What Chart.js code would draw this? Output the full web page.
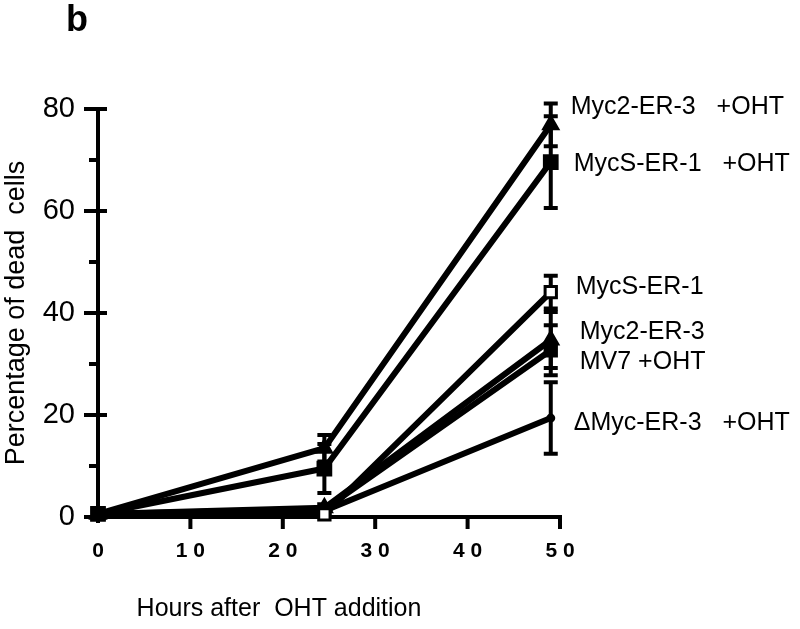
<!DOCTYPE html>
<html lang="en">
<head>
    <meta charset="UTF-8">
    <title>Percentage of dead cells</title>
    <script src="https://cdn.jsdelivr.net/npm/chart.js"></script>
    <style>
        body { margin: 0; background: #fff; }
        canvas { display: block; }
    </style>
</head>
<body>
    <canvas id="deadChart" width="800" height="629"></canvas>
    <script>
        // values (hours, % dead cells)
        const hours = [0, 24.5, 49];
        const myc2Oht = [0.6, 13.5, 76.9];
        const mycSOht = [0.6, 9.5, 69.6];
        const mycS = [0.6, 0.5, 44.1];
        const myc2 = [0.6, 1.8, 34.7];
        const mv7Oht = [0.6, 1.5, 32.7];
        const dMycOht = [0.6, 1.2, 19.4];

        // error bar half-widths
        const myc2OhtErr = [0, 2.6, 4.2];
        const mycSOhtErr = [0, 4.8, 9.0];
        const mycSErr = [0, 0, 3.2];
        const myc2Err = [0, 0, 5.5];
        const mv7OhtErr = [0, 0, 4.9];
        const dMycOhtErr = [0, 0, 7.0];

        const seriesNames = ["Myc2-ER-3   +OHT", "MycS-ER-1   +OHT", "MycS-ER-1", "Myc2-ER-3", "MV7 +OHT", "\u0394Myc-ER-3   +OHT"];
        // where each name sits (y value) next to the last time point
        const nameLevels = [80.4, 69.2, 45.1, 36.3, 30.4, 18.4];
        const nameShift = [20, 23, 25, 29, 29, 23];

        const yTicks = [0, 20, 40, 60, 80];
        const yMinor = [10, 30, 50, 70];
        const xTicks = [10, 20, 30, 40, 50];

        const FONT = '"Liberation Sans", Arial, Helvetica, sans-serif';

        function pts(arr) {
            return hours.map((h, i) => ({ x: h, y: arr[i] }));
        }

        function series(label, arr, err, style, radius, fill) {
            return {
                label: label,
                data: pts(arr),
                errors: err,
                borderColor: '#000',
                borderWidth: 6,
                pointStyle: style,
                pointRadius: radius,
                pointBackgroundColor: fill,
                pointBorderColor: '#000',
                pointBorderWidth: 3,
                tension: 0,
                clip: false
            };
        }

        const axesPlugin = {
            id: 'axesPlugin',
            beforeDatasetsDraw(chart) {
                const c = chart.ctx;
                const xs = chart.scales.x, ys = chart.scales.y;
                const x0 = xs.getPixelForValue(0), y0 = ys.getPixelForValue(0);
                c.save();
                c.strokeStyle = '#000';
                c.lineWidth = 4;
                c.lineCap = 'butt';
                c.beginPath();
                c.moveTo(x0, ys.getPixelForValue(80) - 2);
                c.lineTo(x0, y0 + 6);
                c.moveTo(x0 - 2, y0);
                c.lineTo(xs.getPixelForValue(50) + 2, y0);
                yTicks.forEach(v => {
                    const p = ys.getPixelForValue(v);
                    c.moveTo(x0 - 14, p);
                    c.lineTo(x0 + 9, p);
                });
                yMinor.forEach(v => {
                    const p = ys.getPixelForValue(v);
                    c.moveTo(x0 - 9, p);
                    c.lineTo(x0, p);
                });
                xTicks.forEach(v => {
                    const p = xs.getPixelForValue(v);
                    c.moveTo(p, y0);
                    c.lineTo(p, y0 + 12);
                });
                c.stroke();

                // error bars
                c.lineWidth = 4;
                chart.data.datasets.forEach(ds => {
                    ds.data.forEach((d, i) => {
                        const e = ds.errors[i];
                        if (!e) return;
                        const px = xs.getPixelForValue(d.x);
                        const top = ys.getPixelForValue(d.y + e);
                        const bot = ys.getPixelForValue(d.y - e);
                        c.beginPath();
                        c.moveTo(px, top);
                        c.lineTo(px, bot);
                        c.moveTo(px - 7, top);
                        c.lineTo(px + 7, top);
                        c.moveTo(px - 7, bot);
                        c.lineTo(px + 7, bot);
                        c.stroke();
                    });
                });
                c.restore();
            },
            afterDraw(chart) {
                const c = chart.ctx;
                const xs = chart.scales.x, ys = chart.scales.y;
                c.save();
                c.fillStyle = '#000';
                c.textBaseline = 'middle';
                c.textAlign = 'left';
                c.font = '25px ' + FONT;
                const lastX = xs.getPixelForValue(hours[hours.length - 1]);
                seriesNames.forEach((name, i) => {
                    c.fillText(name, lastX + nameShift[i], ys.getPixelForValue(nameLevels[i]));
                });

                c.font = 'bold 36px ' + FONT;
                c.textBaseline = 'alphabetic';
                c.fillText('b', 66, 31);

                c.font = '25px ' + FONT;
                c.textAlign = 'center';
                c.textBaseline = 'middle';
                c.fillText('Hours after  OHT addition', (xs.getPixelForValue(0) + xs.getPixelForValue(50)) / 2 - 50, 609);

                c.translate(17, (ys.getPixelForValue(0) + ys.getPixelForValue(80)) / 2);
                c.rotate(-Math.PI / 2);
                c.font = '27px ' + FONT;
                c.fillText('Percentage of dead  cells', 0, 0);
                c.restore();
            }
        };

        const ctx = document.getElementById('deadChart').getContext('2d');
        new Chart(ctx, {
            type: 'line',
            data: {
                datasets: [
                    series(seriesNames[0], myc2Oht, myc2OhtErr, 'triangle', 8, '#000'),
                    series(seriesNames[1], mycSOht, mycSOhtErr, 'rect', 9, '#000'),
                    series(seriesNames[2], mycS, mycSErr, 'rect', 8, '#fff'),
                    series(seriesNames[3], myc2, myc2Err, 'triangle', 8, '#000'),
                    series(seriesNames[4], mv7Oht, mv7OhtErr, 'rect', 8, '#000'),
                    series(seriesNames[5], dMycOht, dMycOhtErr, 'circle', 3, '#000')
                ]
            },
            options: {
                responsive: false,
                animation: false,
                layout: { padding: { top: 109, right: 240, left: 0, bottom: 0 } },
                plugins: { legend: { display: false }, tooltip: { enabled: false } },
                scales: {
                    x: {
                        type: 'linear',
                        min: 0, max: 50,
                        afterFit: s => { s.height = 112; },
                        grid: { display: false, drawTicks: false },
                        border: { display: false },
                        ticks: {
                            stepSize: 10,
                            padding: 22,
                            color: '#000',
                            maxRotation: 0,
                            font: { family: FONT, size: 21, weight: 'bold' },
                            callback: v => String(v).split('').join(' ')
                        }
                    },
                    y: {
                        min: 0, max: 80,
                        afterFit: s => { s.width = 98; },
                        grid: { display: false, drawTicks: false },
                        border: { display: false },
                        ticks: {
                            stepSize: 20,
                            padding: 23,
                            color: '#000',
                            font: { family: FONT, size: 29 }
                        }
                    }
                }
            },
            plugins: [axesPlugin]
        });
    </script>
</body>
</html>
